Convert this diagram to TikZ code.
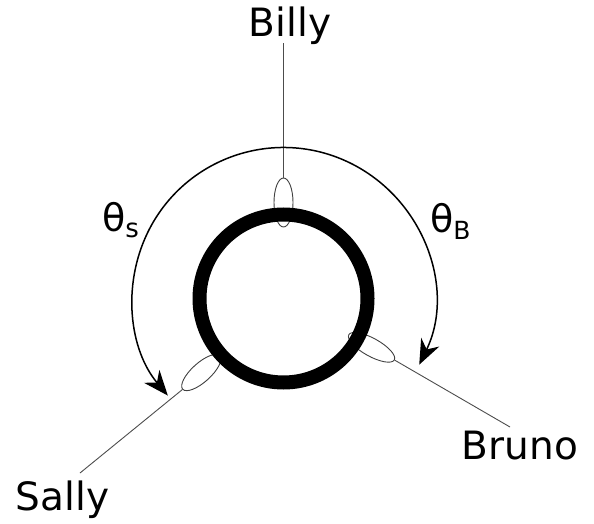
\documentclass[tikz,border=0pt]{standalone}
\usepackage{fontspec}
\setmainfont{DejaVu Sans}
\usetikzlibrary{arrows.meta,shapes.geometric,calc}
\begin{document}
\begin{tikzpicture}[x=1pt,y=1pt,
  lbl/.style={font=\fontsize{39}{46}\selectfont, inner sep=0pt, anchor=base},
  ang/.style={font=\fontsize{38}{46}\selectfont, inner sep=0pt, anchor=base west},
  hand/.style={draw=black!75, line width=0.9pt, ellipse, inner sep=0pt, fill=none},
  wire/.style={draw=black!70, line width=0.9pt},
  ringline/.style={line width=14pt},
  sweep/.style={line width=1.5pt, {Stealth[length=25pt,width=20pt,inset=8pt]}-{Stealth[length=25pt,width=20pt,inset=8pt]}}
]
\useasboundingbox (0,0) rectangle (594,523);
\coordinate (C) at (283.5,224.5);

% hand-hold ellipses
\node[hand, minimum width=49pt, minimum height=19pt, rotate=90] (eB) at ($(C)+(90:96)$) {};
\node[hand, minimum width=52pt, minimum height=18pt, rotate=-29] (eR) at ($(C)+(-29:100.7)$) {};
\node[hand, minimum width=50pt, minimum height=19pt, rotate=222] (eS) at ($(C)+(222:110.6)$) {};

% ring
\draw[ringline] (C) circle[radius=84];

% labels
\node[lbl] (billy) at (290,486) {Billy};
\node[lbl] (sally) at (62.5,13) {Sally};
\node[lbl] (bruno) at (520,64) {Bruno};
\node[ang] (ts) at (102,291.5) {θ\raisebox{-6pt}{\fontsize{26}{30}\selectfont s}};
\node[ang] (tb) at (430,290.5) {θ\raisebox{-7pt}{\fontsize{25}{30}\selectfont B}};

% wire ends
\coordinate (billyend) at (283.5,480);
\coordinate (sallyend) at (80,50);
\coordinate (brunoend) at (510,96);

\draw[wire] (eB.east) -- (billyend);
\draw[wire] (eR.east) -- (brunoend);
\draw[wire] (eS.east) -- (sallyend);

% sweep arc
\draw[sweep] ($(C)+(-26:151)$) arc[start angle=-26, end angle=220, radius=151];
\end{tikzpicture}
\end{document}
